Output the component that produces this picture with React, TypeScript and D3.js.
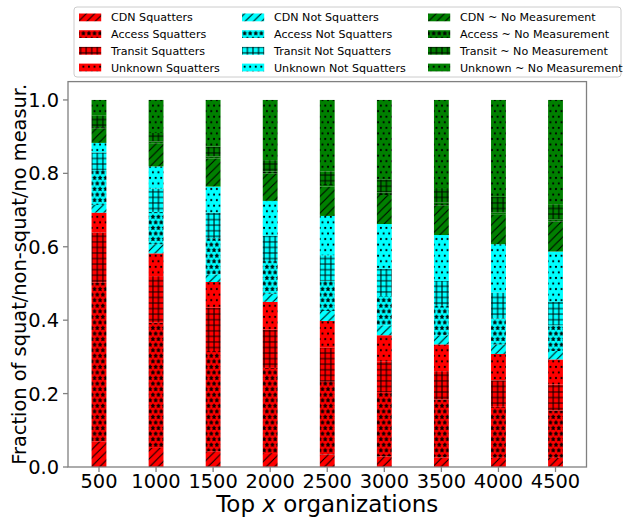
import React from "react";
import * as d3 from "d3";

const categories = [500, 1000, 1500, 2000, 2500, 3000, 3500, 4000, 4500];

const cdnSquat = [0.070, 0.052, 0.043, 0.038, 0.034, 0.029, 0.026, 0.025, 0.025];
const accessSquat = [0.432, 0.341, 0.273, 0.232, 0.198, 0.175, 0.158, 0.139, 0.129];
const transitSquat = [0.137, 0.127, 0.118, 0.104, 0.093, 0.084, 0.077, 0.072, 0.071];
const unknownSquat = [0.054, 0.062, 0.070, 0.076, 0.073, 0.071, 0.073, 0.072, 0.068];
const cdnNot = [0.021, 0.025, 0.021, 0.022, 0.027, 0.027, 0.025, 0.026, 0.023];
const accessNot = [0.095, 0.088, 0.098, 0.089, 0.082, 0.080, 0.080, 0.071, 0.070];
const transitNot = [0.048, 0.064, 0.070, 0.069, 0.070, 0.074, 0.068, 0.070, 0.064];
const unknownNot = [0.026, 0.060, 0.071, 0.095, 0.107, 0.122, 0.125, 0.132, 0.137];
const cdnNM = [0.040, 0.063, 0.077, 0.075, 0.080, 0.079, 0.081, 0.080, 0.082];
const accessNM = [0.003, 0.005, 0.005, 0.005, 0.007, 0.007, 0.008, 0.006, 0.006];
const transitNM = [0.031, 0.023, 0.027, 0.031, 0.034, 0.036, 0.039, 0.043, 0.041];
const unknownNM = [0.043, 0.090, 0.127, 0.164, 0.195, 0.216, 0.240, 0.264, 0.284];

const seriesNames = [
  "CDN Squatters", "Access Squatters", "Transit Squatters", "Unknown Squatters",
  "CDN Not Squatters", "Access Not Squatters", "Transit Not Squatters", "Unknown Not Squatters",
  "CDN ~ No Measurement", "Access ~ No Measurement", "Transit ~ No Measurement", "Unknown ~ No Measurement",
];
const seriesValues = [
  cdnSquat, accessSquat, transitSquat, unknownSquat,
  cdnNot, accessNot, transitNot, unknownNot,
  cdnNM, accessNM, transitNM, unknownNM,
];
const seriesColors = ["red", "red", "red", "red", "cyan", "cyan", "cyan", "cyan", "green", "green", "green", "green"];
const seriesHatch = ["diag", "star", "grid", "dot", "diag", "star", "grid", "dot", "diag", "star", "grid", "dot"];

const yTicks = [0, 0.2, 0.4, 0.6, 0.8, 1.0];

const W = 623, H = 519;
const L = 68, R = 586.5, T = 81.6, B = 467;
const barW = 130;

function starPath(cx: number, cy: number, r: number) {
  const pts: string[] = [];
  for (let i = 0; i < 10; i++) {
    const rr = i % 2 === 0 ? r : r * 0.4;
    const a = -Math.PI / 2 + (i * Math.PI) / 5;
    pts.push(`${(cx + rr * Math.cos(a)).toFixed(2)},${(cy + rr * Math.sin(a)).toFixed(2)}`);
  }
  return "M" + pts.join("L") + "Z";
}

export default function App() {
  const x = d3.scaleLinear().domain([500 - barW / 2 - 206.5, 4500 + barW / 2 + 206.5]).range([L, R]);
  const y = d3.scaleLinear().domain([0, 1.05]).range([B, T]);

  const rows = categories.map((c, i) => {
    const o: any = { cat: c };
    seriesNames.forEach((n, k) => (o[n] = seriesValues[k][i]));
    return o;
  });
  const stacked = d3.stack<any>().keys(seriesNames)(rows);
  const bw = x(barW) - x(0);
  const font = "DejaVu Sans, sans-serif";

  const s = 5.56; // hatch spacing
  const d = 8.33;
  const patterns: React.ReactNode[] = [];
  ["red", "cyan", "green"].forEach((col) => {
    patterns.push(
      <pattern key={col + "diag"} id={`${col}-diag`} patternUnits="userSpaceOnUse" width={d} height={d}>
        <rect width={d} height={d} fill={col} />
        <path d={`M0,${d} L${d},0 M${-d / 2},${d / 2} L${d / 2},${-d / 2} M${d / 2},${d * 1.5} L${d * 1.5},${d / 2}`} stroke="black" strokeWidth={1} />
      </pattern>
    );
    patterns.push(
      <pattern key={col + "star"} id={`${col}-star`} patternUnits="userSpaceOnUse" width={s} height={2 * s}>
        <rect width={s} height={2 * s} fill={col} />
        {[[0, 0], [s, 0], [0, 2 * s], [s, 2 * s], [s / 2, s]].map(([cx, cy], j) => (
          <path key={j} d={starPath(cx, cy, 2.1)} fill="black" stroke="black" strokeWidth={0.7} />
        ))}
      </pattern>
    );
    patterns.push(
      <pattern key={col + "grid"} id={`${col}-grid`} patternUnits="userSpaceOnUse" width={s} height={s}>
        <rect width={s} height={s} fill={col} />
        <path d={`M${s / 2},0 V${s} M0,${s / 2} H${s}`} stroke="black" strokeWidth={1} />
      </pattern>
    );
    patterns.push(
      <pattern key={col + "dot"} id={`${col}-dot`} patternUnits="userSpaceOnUse" width={s} height={2 * s}>
        <rect width={s} height={2 * s} fill={col} />
        {[[0, 0], [s, 0], [0, 2 * s], [s, 2 * s], [s / 2, s]].map(([cx, cy], j) => (
          <circle key={j} cx={cx} cy={cy} r={1.05} fill="black" />
        ))}
      </pattern>
    );
  });

  const legX = [79, 242, 428];
  const legY = [17.5, 34.2, 50.9, 67.6];

  return (
    <svg width={W} height={H} style={{ position: "absolute", left: 0, top: 0, background: "white" }} fontFamily={font}>
      <defs>{patterns}</defs>
      <rect width={W} height={H} fill="white" />
      {stacked.map((layer, k) => (
        <g key={k}>
          {layer.map((seg, i) => (
            <rect
              key={i}
              x={x(categories[i]) - bw / 2}
              y={y(seg[1])}
              width={bw}
              height={y(seg[0]) - y(seg[1])}
              fill={`url(#${seriesColors[k]}-${seriesHatch[k]})`}
            />
          ))}
        </g>
      ))}
      <rect x={L} y={T} width={R - L} height={B - T} fill="none" stroke="#808080" strokeWidth={1.3} />
      {yTicks.map((t) => (
        <g key={t}>
          <line x1={L - 5} x2={L} y1={y(t)} y2={y(t)} stroke="#808080" strokeWidth={1.3} />
          <text x={L - 9} y={y(t)} dy="0.36em" textAnchor="end" fontSize={19.4} fill="black">
            {t.toFixed(1)}
          </text>
        </g>
      ))}
      {categories.map((c) => (
        <g key={c}>
          <line x1={x(c)} x2={x(c)} y1={B} y2={B + 5} stroke="#808080" strokeWidth={1.3} />
          <text x={x(c)} y={488} textAnchor="middle" fontSize={19.4} fill="black">
            {c}
          </text>
        </g>
      ))}
      <text x={(L + R) / 2} y={512} textAnchor="middle" fontSize={23} fill="black">
        Top <tspan fontStyle="italic">x</tspan> organizations
      </text>
      <text
        transform={`translate(${26},${(T + B) / 2}) rotate(-90)`}
        textAnchor="middle"
        fontSize={19.4}
        fill="black"
      >
        Fraction of squat/non-squat/no measur.
      </text>
      <rect x={74} y={7} width={547} height={70} rx={3} fill="white" stroke="#cccccc" strokeWidth={1} />
      {seriesNames.map((n, k) => {
        const col = Math.floor(k / 4);
        const row = k % 4;
        return (
          <g key={n}>
            <rect x={legX[col]} y={legY[row] - 4} width={22.2} height={7.8} fill={`url(#${seriesColors[k]}-${seriesHatch[k]})`} />
            <text x={legX[col] + 32} y={legY[row]} dy="0.36em" fontSize={11.1} fill="black">
              {n}
            </text>
          </g>
        );
      })}
    </svg>
  );
}
